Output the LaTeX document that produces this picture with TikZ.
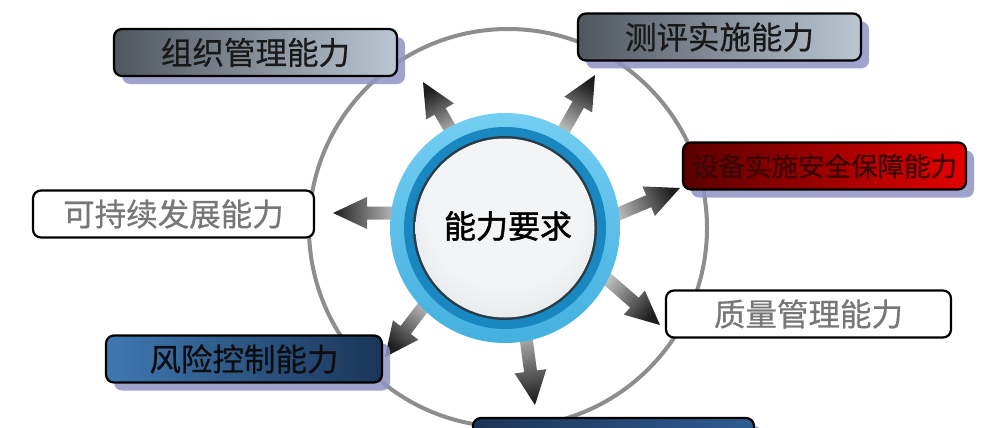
\documentclass[tikz,border=0pt]{standalone}
\usepackage{fontspec}
\newfontfamily\cjk{Noto Sans CJK SC}[FakeBold=0.6]
\newfontfamily\cjkhub{Noto Sans CJK SC}[FakeBold=1.4]
\usetikzlibrary{calc,shadows}
\definecolor{gboxL}{HTML}{50565E}
\definecolor{gboxR}{HTML}{BAC7D3}
\definecolor{redL}{HTML}{5A0000}
\definecolor{redR}{HTML}{E30000}
\definecolor{redT}{HTML}{3A0606}
\definecolor{blueL}{HTML}{3F78B2}
\definecolor{blueR}{HTML}{1B3557}
\definecolor{navyL}{HTML}{1C3456}
\definecolor{navyR}{HTML}{2E5C92}
\definecolor{shadowc}{HTML}{8F94C4}
\definecolor{ringc}{HTML}{8E8E8E}
\definecolor{hubTop}{HTML}{74CEF2}
\definecolor{hubBot}{HTML}{44B0DF}
\definecolor{hubDark}{HTML}{1A88C0}
\definecolor{hubEdge}{HTML}{2A3C4A}
\definecolor{hubA}{HTML}{F2F4F5}
\definecolor{hubB}{HTML}{DCE0E2}
\definecolor{hubC}{HTML}{959A9E}
\definecolor{arrowD}{HTML}{1E1E1E}
\definecolor{arrowL}{HTML}{D4D4D4}
\definecolor{greyT}{HTML}{777777}
\pgfdeclareradialshading{hubdisk}{\pgfpoint{0bp}{10bp}}{color(0bp)=(hubA); color(22bp)=(hubA); color(38bp)=(hubB); color(50bp)=(hubC)}
\tikzset{
  box/.style={draw=black, line width=2.2pt, rounded corners=8pt, minimum width=283pt,
    minimum height=47pt, inner sep=0pt, font=\cjk\fontsize{31.5}{31.5}\selectfont},
  shadowed/.style={drop shadow={shadow xshift=8pt, shadow yshift=-8pt, fill=shadowc, opacity=0.85}},
  graybox/.style={box, shadowed, left color=gboxL, right color=gboxR, text=black!90},
  redbox/.style={box, shadowed, left color=redL, right color=redR, text=redT},
  bluebox/.style={box, shadowed, left color=blueL, right color=blueR, text=black!95},
  navybox/.style={box, shadowed, left color=navyL, right color=navyR},
  whitebox/.style={box, fill=white, text=greyT},
  ring/.style={draw=ringc, line width=4pt}
}
\newcommand\garrow[3]{%
  \path ($(#2)!34pt!(#1)$) coordinate (hb);
  \shade[top color=arrowD, bottom color=arrowL, shading angle=#3]
    ($(#1)!6.5pt!90:(#2)$) -- ($(hb)!6.5pt!90:(#2)$) -- ($(hb)!16pt!90:(#2)$) -- (#2)
    -- ($(hb)!16pt!-90:(#2)$) -- ($(hb)!6.5pt!-90:(#2)$) -- ($(#1)!6.5pt!-90:(#2)$) -- cycle;
}
\begin{document}
\begin{tikzpicture}[x=1pt,y=-1pt]
\useasboundingbox (0,0) rectangle (1006,428);
\fill[white] (0,0) rectangle (1006,428);
% big ring
\coordinate (rc) at (508,228);
\draw[ring] (rc) circle[radius=199pt];
% arrow coordinates
\coordinate (s1) at (459.5,145); \coordinate (t1) at (423,82);
\coordinate (s2) at (557.6,141); \coordinate (t2) at (595,75);
\coordinate (s3) at (604,220);   \coordinate (t3) at (680,188);
\coordinate (s4) at (405,213);   \coordinate (t4) at (333,213);
\coordinate (s5) at (597,270);   \coordinate (t5) at (660,325);
\coordinate (s6) at (434,293);   \coordinate (t6) at (385,357);
\coordinate (s7) at (523,315);   \coordinate (t7) at (535,405);
\garrow{s1}{t1}{30}
\garrow{s2}{t2}{-29.5}
\garrow{s3}{t3}{-67.3}
\garrow{s4}{t4}{90}
\garrow{s5}{t5}{-130.9}
\garrow{s6}{t6}{142.4}
\garrow{s7}{t7}{-172.4}
% hub
\node[circle, minimum size=230pt, inner sep=0pt, top color=hubTop, bottom color=hubBot] (hub) at (505,228) {};
\fill[hubDark] (hub.center) circle[radius=101pt];
\fill[hubEdge] (hub.center) circle[radius=92pt];
\shade[shading=hubdisk] (hub.center) circle[radius=89.5pt];
\node[font=\cjkhub\fontsize{32}{32}\selectfont, text=black] (hubtext) at (508,226) {能力要求};
% boxes
\node[graybox, minimum width=283pt] (b1) at (255.5,52.5) {组织管理能力};
\node[graybox, minimum width=283pt] (b2) at (719.5,37) {测评实施能力};
\node[redbox, minimum width=283pt, font=\cjk\fontsize{26.5}{26.5}\selectfont] (b3) at (824.5,166) {设备实施安全保障能力};
\node[whitebox, minimum width=281pt] (b4) at (173.5,214) {可持续发展能力};
\node[whitebox, minimum width=285pt] (b5) at (808.5,314) {质量管理能力};
\node[bluebox, minimum width=276pt] (b6) at (244,359) {风险控制能力};
\node[navybox, minimum width=281pt, minimum height=48pt] (b7) at (613.5,442) {};
\end{tikzpicture}
\end{document}
